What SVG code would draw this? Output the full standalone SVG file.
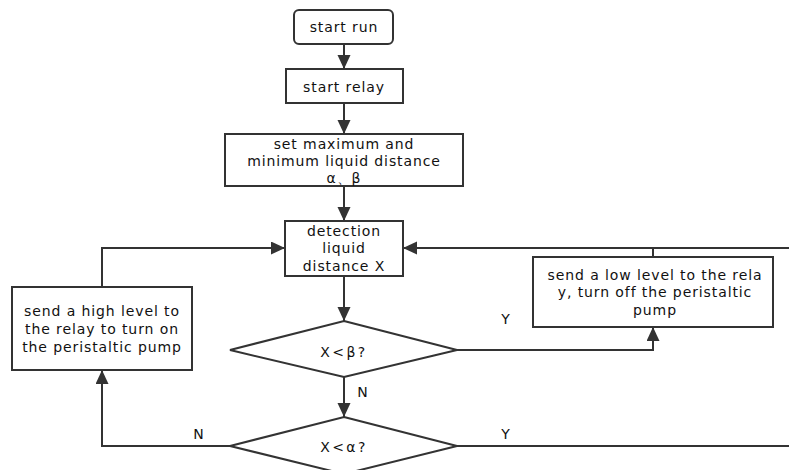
<svg xmlns="http://www.w3.org/2000/svg" width="789" height="470" viewBox="0 0 789 470">
<style>
.box{fill:#fff;stroke:#333;stroke-width:2}
.ln{fill:none;stroke:#333;stroke-width:2}
text{font-family:"DejaVu Sans",Verdana,sans-serif;font-size:14px;letter-spacing:0.9px;fill:#111;text-anchor:middle}
.q{letter-spacing:2.4px}
</style>
<defs>
<marker id="ah" markerUnits="userSpaceOnUse" markerWidth="16" markerHeight="14" refX="14" refY="6.5" orient="auto">
<path d="M0,0 L14,6.5 L0,13 Z" fill="#333"/>
</marker>
</defs>
<rect width="789" height="470" fill="#fff"/>
<g id="connectors">
<line class="ln" x1="344" y1="44" x2="344" y2="69" marker-end="url(#ah)"/>
<line class="ln" x1="344" y1="103" x2="344" y2="134" marker-end="url(#ah)"/>
<line class="ln" x1="344" y1="186" x2="344" y2="221" marker-end="url(#ah)"/>
<line class="ln" x1="344" y1="276" x2="344" y2="321" marker-end="url(#ah)"/>
<line class="ln" x1="344" y1="377" x2="344" y2="417" marker-end="url(#ah)"/>
<polyline class="ln" points="102,287 102,248 285,248" marker-end="url(#ah)"/>
<polyline class="ln" points="230,446 102,446 102,370" marker-end="url(#ah)"/>
<polyline class="ln" points="457,350 653,350 653,327" marker-end="url(#ah)"/>
<line class="ln" x1="653" y1="257" x2="653" y2="248"/>
<line class="ln" x1="789" y1="248" x2="403" y2="248" marker-end="url(#ah)"/>
<line class="ln" x1="457" y1="446" x2="789" y2="446"/>
<text x="363" y="397">N</text>
<text x="199" y="439">N</text>
<text x="506" y="324">Y</text>
<text x="506" y="439">Y</text>
</g>
<g id="start-run">
<rect class="box" x="294" y="10" width="99" height="34" rx="5"/>
<text x="344" y="32">start run</text>
</g>
<g id="start-relay">
<rect class="box" x="286" y="69" width="117" height="34"/>
<text x="344" y="92">start relay</text>
</g>
<g id="set-distance">
<rect class="box" x="225" y="134" width="238" height="52"/>
<text x="344" y="149">set maximum and</text>
<text x="344" y="166">minimum liquid distance</text>
<text x="344" y="183">α、β</text>
</g>
<g id="detection">
<rect class="box" x="285" y="221" width="118" height="55"/>
<text x="344" y="236">detection</text>
<text x="344" y="253">liquid</text>
<text x="344" y="271">distance X</text>
</g>
<g id="high-level">
<rect class="box" x="12" y="287" width="180" height="83"/>
<text x="102" y="316">send a high level to</text>
<text x="102" y="334">the relay to turn on</text>
<text x="102" y="352">the peristaltic pump</text>
</g>
<g id="low-level">
<rect class="box" x="533" y="257" width="240" height="70"/>
<text x="655" y="280">send a low level to the rela</text>
<text x="655" y="297">y, turn off the peristaltic</text>
<text x="655" y="315">pump</text>
</g>
<g id="cond-beta">
<polygon class="box" points="344,321 457,350 344,377 230,350"/>
<text class="q" x="344" y="357">X&lt;β?</text>
</g>
<g id="cond-alpha">
<polygon class="box" points="344,417 457,446 344,474 230,446"/>
<text class="q" x="344" y="452">X&lt;α?</text>
</g>
</svg>
